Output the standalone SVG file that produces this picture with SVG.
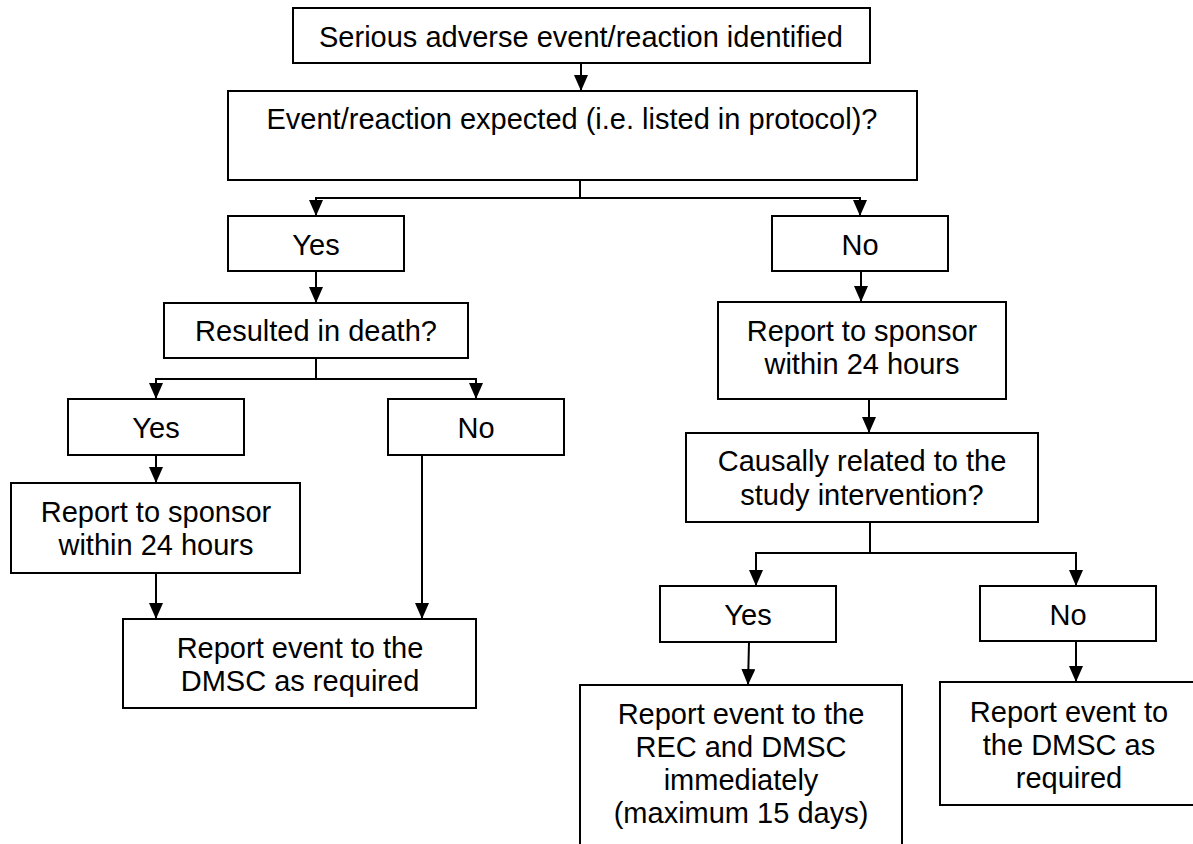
<svg xmlns="http://www.w3.org/2000/svg" width="1193" height="844" viewBox="0 0 1193 844">
<defs>
<marker id="ah" viewBox="0 0 16 14" refX="16" refY="7" markerWidth="16" markerHeight="14" markerUnits="userSpaceOnUse" orient="auto">
<path d="M0,0 L16,7 L0,14 z" fill="#000"/>
</marker>
<style>
.b{fill:#fff;stroke:#000;stroke-width:2}
.t{font-family:"Liberation Sans",Arial,sans-serif;font-size:29px;fill:#000;text-anchor:middle}
.c{fill:none;stroke:#000;stroke-width:2}
.a{marker-end:url(#ah)}
</style>
</defs>
<rect width="1193" height="844" fill="#fff"/>
<g id="connectors">
<path class="c a" d="M581,63 V91"/>
<path class="c a" d="M580,180 V198 H316 V216"/>
<path class="c a" d="M580,198 H860 V216"/>
<path class="c a" d="M316,271 V303"/>
<path class="c a" d="M316,358 V379 H156 V399"/>
<path class="c a" d="M316,379 H476 V399"/>
<path class="c a" d="M156,455 V483"/>
<path class="c a" d="M156,573 V619"/>
<path class="c a" d="M422,455 V619"/>
<path class="c a" d="M861,271 V302"/>
<path class="c a" d="M869,399 V433"/>
<path class="c a" d="M870,522 V553 H756 V586"/>
<path class="c a" d="M870,553 H1076 V586"/>
<path class="c a" d="M749,642 L748,685"/>
<path class="c a" d="M1076,641 V682"/>
</g>
<g id="n1"><rect class="b" x="293" y="8" width="577" height="55"/><text class="t" x="581" y="47">Serious adverse event/reaction identified</text></g>
<g id="n2"><rect class="b" x="228" y="91" width="689" height="89"/><text class="t" x="572" y="129">Event/reaction expected (i.e. listed in protocol)?</text></g>
<g id="n3"><rect class="b" x="228" y="216" width="176" height="55"/><text class="t" x="316" y="255">Yes</text></g>
<g id="n4"><rect class="b" x="772" y="216" width="176" height="55"/><text class="t" x="860" y="255">No</text></g>
<g id="n5"><rect class="b" x="164" y="303" width="304" height="55"/><text class="t" x="316" y="341">Resulted in death?</text></g>
<g id="n6"><rect class="b" x="68" y="399" width="176" height="56"/><text class="t" x="156" y="438">Yes</text></g>
<g id="n7"><rect class="b" x="388" y="399" width="176" height="56"/><text class="t" x="476" y="438">No</text></g>
<g id="n8"><rect class="b" x="11" y="483" width="289" height="90"/><text class="t" x="156" y="522">Report to sponsor</text><text class="t" x="156" y="555">within 24 hours</text></g>
<g id="n9"><rect class="b" x="123" y="619" width="353" height="89"/><text class="t" x="300" y="658">Report event to the</text><text class="t" x="300" y="691">DMSC as required</text></g>
<g id="n10"><rect class="b" x="718" y="302" width="288" height="97"/><text class="t" x="862" y="341">Report to sponsor</text><text class="t" x="862" y="374">within 24 hours</text></g>
<g id="n11"><rect class="b" x="686" y="433" width="352" height="89"/><text class="t" x="862" y="471">Causally related to the</text><text class="t" x="862" y="505">study intervention?</text></g>
<g id="n12"><rect class="b" x="660" y="586" width="176" height="56"/><text class="t" x="748" y="625">Yes</text></g>
<g id="n13"><rect class="b" x="980" y="586" width="176" height="55"/><text class="t" x="1068" y="625">No</text></g>
<g id="n14"><rect class="b" x="580" y="685" width="322" height="175"/><text class="t" x="741" y="724">Report event to the</text><text class="t" x="741" y="757">REC and DMSC</text><text class="t" x="741" y="790">immediately</text><text class="t" x="741" y="823">(maximum 15 days)</text></g>
<g id="n15"><rect class="b" x="940" y="682" width="270" height="123"/><text class="t" x="1069" y="722">Report event to</text><text class="t" x="1069" y="755">the DMSC as</text><text class="t" x="1069" y="788">required</text></g>
</svg>
